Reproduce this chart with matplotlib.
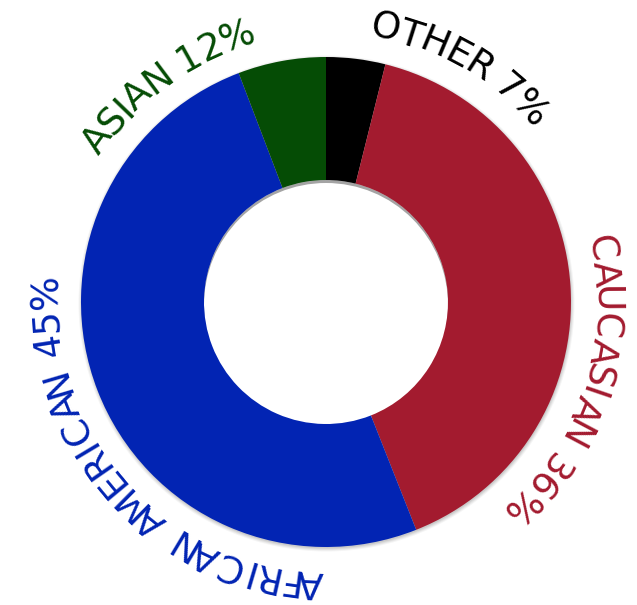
import numpy as np
import matplotlib
matplotlib.use("Agg")
import matplotlib.pyplot as plt
from matplotlib.patches import Circle
from matplotlib.font_manager import FontProperties, findfont, get_font

# ---- data ----
categories = ["OTHER", "CAUCASIAN", "AFRICAN AMERICAN", "ASIAN"]
values = [3.9, 40.1, 50.2, 5.8]            # visible slice sizes (share of ring)
labels = ["OTHER 7%", "CAUCASIAN 36%", "AFRICAN AMERICAN 45%", "ASIAN 12%"]
label_angles = [29.4, 107.7, 227.6, 323.5]  # degrees clockwise from top
colors = ["#000000", "#A31B2F", "#0224B3", "#054C05"]

W, H, DPI = 637, 605, 100
cx, cy = 326, 303
R, R_IN = 245, 122

fig = plt.figure(figsize=(W / DPI, H / DPI), dpi=DPI)
ax = fig.add_axes([0, 0, 1, 1])

# soft shadow behind ring
for i, a in enumerate([0.04, 0.05, 0.06, 0.07]):
    ax.add_patch(Circle((cx + 0.5, cy - 1.5), R + 3 - i, color="black", alpha=a, lw=0, zorder=0))
# inner shadow inside the hole
for i, a in enumerate([0.05, 0.06, 0.08]):
    ax.add_patch(Circle((cx, cy), R_IN, color="black", alpha=a, lw=0, zorder=0.5))
ax.add_patch(Circle((cx, cy - 3.0), R_IN, color="white", lw=0, zorder=0.6))

ax.pie(values, colors=colors, startangle=90, counterclock=False,
       radius=R, center=(cx, cy),
       wedgeprops=dict(width=R - R_IN, linewidth=0, zorder=1))

# ---- curved labels ----
fsize = 27
prop = FontProperties(family="DejaVu Sans", size=fsize)
font = get_font(findfont(prop))
font.set_size(fsize, 72)
scale = DPI / 72.0

def advance(ch):
    g = font.load_char(ord(ch))
    return g.linearHoriAdvance / 65536.0 * scale

r_mid = 283.0
cap = 0.729 * fsize * scale
r_base = r_mid - cap / 2

for text, ang, col in zip(labels, label_angles, colors):
    adv = [advance(c) for c in text]
    pos = np.cumsum([0] + adv[:-1]) + np.array(adv) / 2
    mid = (pos[0] + pos[-1]) / 2
    for ch, p in zip(text, pos):
        if ch == " ":
            continue
        th = np.deg2rad(ang) + (p - mid) / r_mid
        x = cx + r_base * np.sin(th)
        y = cy + r_base * np.cos(th)
        ax.text(x, y, ch, rotation=-np.rad2deg(th), rotation_mode="anchor",
                ha="center", va="baseline", color=col,
                fontproperties=prop)

ax.set_xlim(0, W)
ax.set_ylim(0, H)
ax.set_aspect("equal")
ax.axis("off")
fig.savefig("out.png", dpi=DPI, facecolor="white")
